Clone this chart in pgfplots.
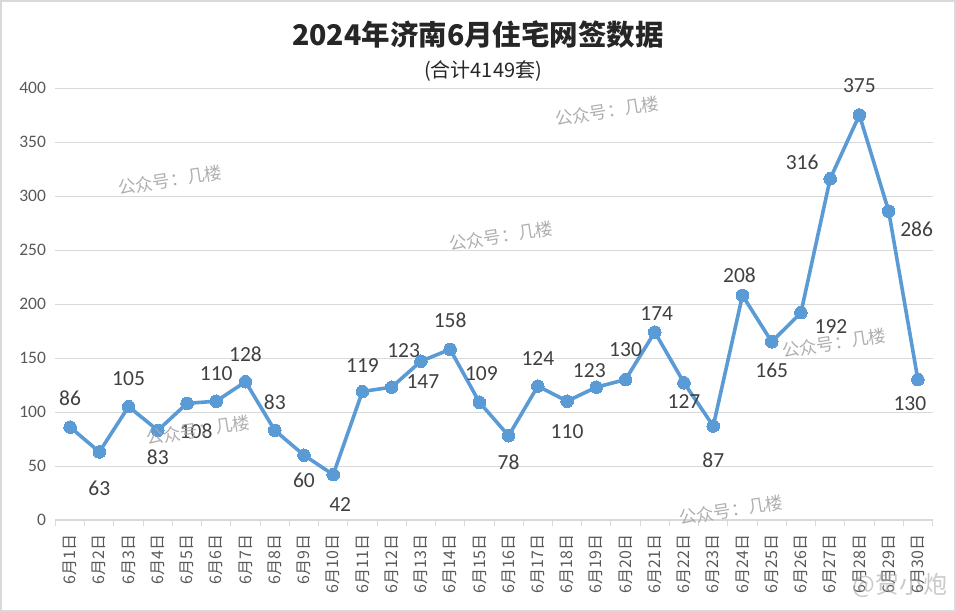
\documentclass[border=0pt]{standalone}
\usepackage{pgfplots}
\pgfplotsset{compat=1.18}
\usepackage{fontspec}
\setmainfont{Carlito}
\newfontfamily\cjk{Noto Sans CJK SC}
\definecolor{lineblue}{HTML}{5B9BD5}
\definecolor{lbl}{HTML}{404040}
\definecolor{tck}{HTML}{595959}
\definecolor{grd}{HTML}{D9D9D9}
\definecolor{wm}{HTML}{A6A6A6}
\pgfplotstableread{
x y dx dy
1 86 0 29
2 63 0 -36
3 105 0 28
4 83 0 -27
5 108 9 -28
6 110 0 28
7 128 0 28
8 83 0 28
9 60 0 -25
10 42 7 -30
11 119 0 26
12 123 12 37
13 147 2 -20
14 158 0 29
15 109 2 29
16 78 0 -26
17 124 0 28
18 110 0 -30
19 123 -7 17
20 130 0 30
21 174 2 18
22 127 0 -19
23 87 0 -34
24 208 -3 20
25 165 0 -29
26 192 30 -14
27 316 -28 16
28 375 0 29
29 286 28 -18
30 130 -8 -24
}\datatable
\begin{document}
\begin{tikzpicture}
\begin{axis}[name=ax,
  scale only axis, width=877pt, height=432pt,
  xmin=0.5, xmax=30.5, ymin=0, ymax=400,
  axis lines*=left,
  x axis line style={draw=grd, line width=1pt, -},
  y axis line style={draw=none},
  ytick={0,50,...,400},
  ymajorgrids, grid style={draw=grd, line width=0.9pt},
  xtick={1,...,30},
  xticklabels={6月1日,6月2日,6月3日,6月4日,6月5日,6月6日,6月7日,6月8日,6月9日,6月10日,6月11日,6月12日,6月13日,6月14日,6月15日,6月16日,6月17日,6月18日,6月19日,6月20日,6月21日,6月22日,6月23日,6月24日,6月25日,6月26日,6月27日,6月28日,6月29日,6月30日},
  minor xtick={0.5,1.5,...,30.5},
  major tick length=0pt,
  minor tick length=6pt,
  tick align=outside,
  minor tick style={draw=grd, line width=1pt},
  xticklabel style={rotate=90, anchor=east, font=\cjk\fontsize{16}{16}\selectfont, text=tck, xshift=-11pt},
  yticklabel style={font=\fontsize{17.5}{17.5}\selectfont, text=tck, xshift=-6pt},
  /pgf/number format/assume math mode=true,
  clip=false,
]
\addplot[color=lineblue, line width=3.6pt, line join=round,
  mark=*, mark size=6.3pt, mark options={fill=lineblue, draw=lineblue, line width=0pt},
  visualization depends on={\thisrow{dx} \as \dx},
  visualization depends on={\thisrow{dy} \as \dy},
  nodes near coords,
  nodes near coords style={anchor=center, xshift=\dx pt, yshift=\dy pt, font=\fontsize{21.5}{21.5}\selectfont, text=lbl},
] table[x=x, y=y] {\datatable};
\end{axis}
\coordinate (O) at ([shift={(-55.5pt,432pt+88pt)}]ax.south west);
\draw[grd, line width=2pt] ([shift={(1pt,-1pt)}]O) rectangle ([shift={(955pt,-611pt)}]O);
\node[font=\cjk\bfseries\fontsize{28.5}{28.5}\selectfont, text=black!85] at ([shift={(478pt,-35pt)}]O) {2024年济南6月住宅网签数据};
\node[font=\cjk\fontsize{20}{20}\selectfont, text=black!85] at ([shift={(483pt,-71pt)}]O) {(合计4149套)};
\foreach \px/\py in {607/111, 170/180, 501/236, 834/343, 198/430, 731/510}{
  \node[font=\cjk\fontsize{17.5}{17.5}\selectfont, text=wm, rotate=9, opacity=0.9] at ([shift={(\px pt,-\py pt)}]O) {公众号：几楼};
}
\node[font=\cjk\fontsize{24}{24}\selectfont, text=wm, opacity=0.6] at ([shift={(900pt,-585pt)}]O) {@贺小炮};
\end{tikzpicture}
\end{document}
